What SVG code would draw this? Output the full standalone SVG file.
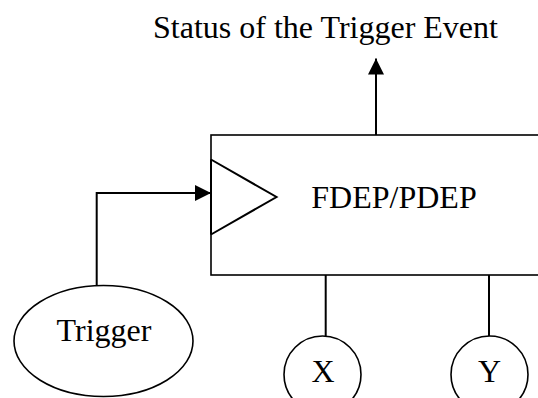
<svg xmlns="http://www.w3.org/2000/svg" width="538" height="398" viewBox="0 0 538 398">
  <style>
    .shape { fill: #fff; stroke: #000; stroke-width: 1.6; }
    .wire { fill: none; stroke: #000; stroke-width: 2; }
    .label { font-family: "Liberation Serif", "Times New Roman", serif; font-size: 32px; fill: #000; }
  </style>
  <defs>
    <marker id="head" markerUnits="userSpaceOnUse" markerWidth="16" markerHeight="16" viewBox="0 0 15 15" refX="15" refY="7.5" orient="auto">
      <path d="M0,0 L15,7.5 L0,15 Z" fill="#000"/>
    </marker>
  </defs>
  <rect width="538" height="398" fill="#fff"/>

  <!-- output label -->
  <text class="label" x="325.5" y="38" text-anchor="middle">Status of the Trigger Event</text>

  <!-- gate body with trigger input symbol -->
  <g id="gate">
    <rect class="shape" x="211" y="135" width="340" height="140" stroke-width="2"/>
    <polyline class="wire" points="211,159.5 276.5,197 211,234.5" stroke-width="1.8"/>
    <line class="wire" x1="211" y1="159.5" x2="211" y2="234.5" stroke-width="2.6"/>
    <text class="label" x="394" y="208" text-anchor="middle">FDEP/PDEP</text>
  </g>

  <g id="trigger">
    <ellipse class="shape" cx="103.5" cy="341" rx="89.5" ry="55.5"/>
    <text class="label" x="104" y="341" text-anchor="middle">Trigger</text>
  </g>

  <g id="x">
    <ellipse class="shape" cx="322.5" cy="374.5" rx="38.5" ry="38.5"/>
    <text class="label" x="323" y="382" text-anchor="middle">X</text>
  </g>

  <g id="y">
    <ellipse class="shape" cx="489.5" cy="374.5" rx="38.5" ry="38.5"/>
    <text class="label" x="489.5" y="382" text-anchor="middle">Y</text>
  </g>

  <g id="connectors">
    <polyline class="wire" points="96.7,286 96.7,193 211,193" marker-end="url(#head)"/>
    <line class="wire" x1="376" y1="135" x2="376" y2="58.5" marker-end="url(#head)"/>
    <line class="wire" x1="325.7" y1="275" x2="325.7" y2="336"/>
    <line class="wire" x1="489" y1="275" x2="489" y2="336"/>
  </g>
</svg>
